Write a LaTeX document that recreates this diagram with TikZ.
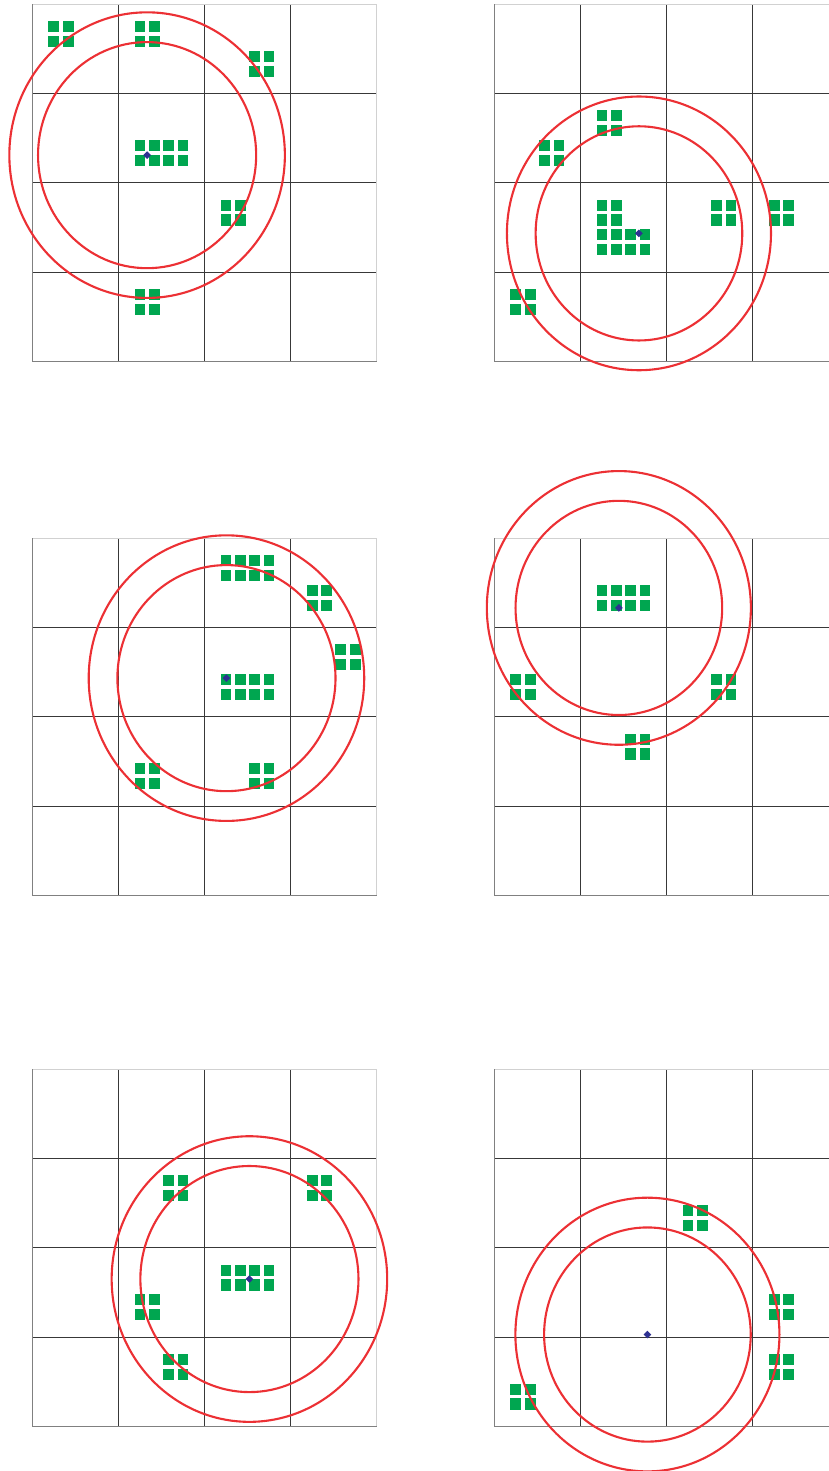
\documentclass[tikz,border=0pt]{standalone}
\usepackage{xcolor}
\definecolor{sitegreen}{HTML}{00A650}
\definecolor{ringred}{HTML}{EC3034}
\definecolor{markblue}{HTML}{2E3192}
\usepackage{tikz}
\usetikzlibrary{shapes.geometric}

\begin{document}
\begin{tikzpicture}[
  innerline/.style={draw=black!78,line width=0.55pt},
  edgeline/.style={draw=black!50,line width=0.55pt},
  rimline/.style={draw=black!18,line width=0.55pt},
  site/.style={fill=sitegreen},
  ring/.style={draw=ringred,line width=1.2pt},
  centre/.style={shape=diamond,fill=markblue,inner sep=0pt,minimum size=0.16cm},
  panel/.style={x=0.287cm,y=-0.2975cm}]
\useasboundingbox (0,0) rectangle (16.58,-29.42);
\clip (0,0) rectangle (16.58,-29.42);

% the six 4x4 grids
\foreach \px/\py in {0.646/-0.086,9.886/-0.086,0.646/-10.766,9.886/-10.766,0.646/-21.386,9.886/-21.386}{
  \begin{scope}[shift={(\px cm,\py cm)},panel]
    \foreach \k in {6,12,18}{
      \draw[innerline] (\k,0) -- (\k,24);
      \draw[innerline] (0,\k) -- (24,\k);
    }
    \draw[rimline] (0,0) -- (24,0) -- (24,24);
    \draw[edgeline] (0,0) -- (0,24) -- (24,24);
  \end{scope}
}

% panel 1
\begin{scope}[shift={(0.646cm,-0.086cm)},panel]
  \foreach \bx/\by/\bn in {1/1/2,7/1/2,15/3/2,7/9/4,13/13/2,7/19/2}
    \foreach \c in {1,...,\bn}
      \foreach \r in {0,1}
        \fill[site] ({\bx+\c-1+0.125},{\by+\r+0.125}) rectangle +(0.75,0.75);
  \draw[ring] (8,10.14) circle[radius=9.6];
  \draw[ring] (8,10.14) circle[radius=7.6];
  \node[centre] (c1) at (8,10.14) {};
\end{scope}

% panel 2
\begin{scope}[shift={(9.886cm,-0.086cm)},panel]
  \foreach \bx/\by/\bn in {7/7/2,3/9/2,7/13/2,7/15/4,15/13/2,19/13/2,1/19/2}
    \foreach \c in {1,...,\bn}
      \foreach \r in {0,1}
        \fill[site] ({\bx+\c-1+0.125},{\by+\r+0.125}) rectangle +(0.75,0.75);
  \draw[ring] (10.08,15.4) circle[radius=9.2];
  \draw[ring] (10.08,15.4) circle[radius=7.2];
  \node[centre] (c2) at (10.08,15.4) {};
\end{scope}

% panel 3
\begin{scope}[shift={(0.646cm,-10.766cm)},panel]
  \foreach \bx/\by/\bn in {13/1/4,19/3/2,21/7/2,13/9/4,7/15/2,15/15/2}
    \foreach \c in {1,...,\bn}
      \foreach \r in {0,1}
        \fill[site] ({\bx+\c-1+0.125},{\by+\r+0.125}) rectangle +(0.75,0.75);
  \draw[ring] (13.53,9.4) circle[radius=9.6];
  \draw[ring] (13.53,9.4) circle[radius=7.6];
  \node[centre] (c3) at (13.53,9.4) {};
\end{scope}

% panel 4
\begin{scope}[shift={(9.886cm,-10.766cm)},panel]
  \foreach \bx/\by/\bn in {7/3/4,1/9/2,15/9/2,9/13/2}
    \foreach \c in {1,...,\bn}
      \foreach \r in {0,1}
        \fill[site] ({\bx+\c-1+0.125},{\by+\r+0.125}) rectangle +(0.75,0.75);
  \draw[ring] (8.68,4.68) circle[radius=9.2];
  \draw[ring] (8.68,4.68) circle[radius=7.2];
  \node[centre] (c4) at (8.68,4.68) {};
\end{scope}

% panel 5
\begin{scope}[shift={(0.646cm,-21.386cm)},panel]
  \foreach \bx/\by/\bn in {9/7/2,19/7/2,13/13/4,7/15/2,9/19/2}
    \foreach \c in {1,...,\bn}
      \foreach \r in {0,1}
        \fill[site] ({\bx+\c-1+0.125},{\by+\r+0.125}) rectangle +(0.75,0.75);
  \draw[ring] (15.13,14.1) circle[radius=9.6];
  \draw[ring] (15.13,14.1) circle[radius=7.6];
  \node[centre] (c5) at (15.13,14.1) {};
\end{scope}

% panel 6
\begin{scope}[shift={(9.886cm,-21.386cm)},panel]
  \foreach \bx/\by/\bn in {13/9/2,19/15/2,19/19/2,1/21/2}
    \foreach \c in {1,...,\bn}
      \foreach \r in {0,1}
        \fill[site] ({\bx+\c-1+0.125},{\by+\r+0.125}) rectangle +(0.75,0.75);
  \draw[ring] (10.67,17.83) circle[radius=9.2];
  \draw[ring] (10.67,17.83) circle[radius=7.2];
  \node[centre] (c6) at (10.67,17.83) {};
\end{scope}
\end{tikzpicture}
\end{document}
